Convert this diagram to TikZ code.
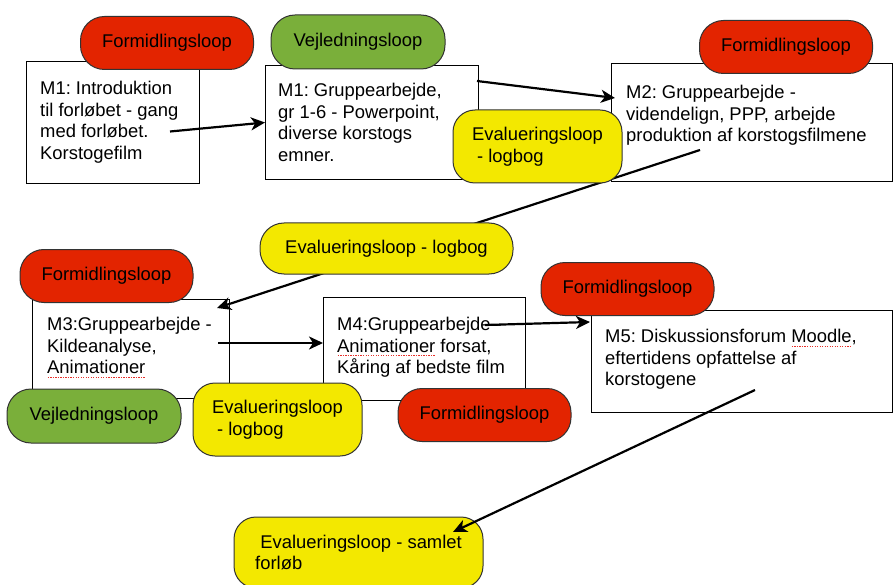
\documentclass[tikz,border=0pt]{standalone}
\usepackage{fontspec}
\setmainfont{Liberation Sans}
\usetikzlibrary{arrows.meta}
\definecolor{loopred}{HTML}{E32400}
\definecolor{loopgreen}{HTML}{7AAF3A}
\definecolor{loopyellow}{HTML}{F3E800}
\definecolor{spellred}{HTML}{E8302A}
\frenchspacing
% red dotted line under a word, as the spell checker marks it
\newcommand{\spellmark}[1]{\setbox0\hbox{#1}\rlap{\color{spellred}\raisebox{-4pt}{\hbox to\wd0{\xleaders\hbox to 2.5pt{\hss\rule{1.3pt}{1pt}\hss}\hfil}}}#1}

\begin{document}
\begin{tikzpicture}[x=1pt, y=-1pt, font=\fontsize{18.4}{21.5}\selectfont,
  modul/.style = {draw, line width=1pt, fill=white, anchor=north west, inner sep=0pt},
  txt/.style = {anchor=north west, inner sep=0pt, align=left},
  loopbox/.style = {draw=black!80, line width=1pt, rounded corners=24pt, inner sep=0pt, align=left},
  formid/.style = {loopbox, fill=loopred, minimum width=173pt, minimum height=53pt},
  vejled/.style = {loopbox, fill=loopgreen, minimum width=174pt, minimum height=54pt},
  evalu/.style = {loopbox, fill=loopyellow},
  pil/.style = {line width=2.2pt, -{Stealth[length=14pt, width=13pt, inset=4pt]}}]
\useasboundingbox (0,0) rectangle (893,585);

% moduler
\node[modul, minimum width=173pt, minimum height=122pt] (m1a) at (26,61) {};
\node[modul, minimum width=213pt, minimum height=114pt] (m1b) at (265,65) {};
\node[modul, minimum width=281pt, minimum height=118pt] (m2) at (611,63) {};
\node[modul, minimum width=197pt, minimum height=99pt] (m3) at (32,299) {};
\node[modul, minimum width=202pt, minimum height=103pt] (m4) at (323,297) {};
\node[modul, minimum width=301pt, minimum height=102pt] (m5) at (591,310) {};

\node[txt] (t1a) at (40,81) {M1: Introduktion\\til forløbet - gang\\med forløbet.\\Korstogefilm};
\node[txt] (t1b) at (278,83) {M1: Gruppearbejde,\\gr 1-6 - Powerpoint,\\diverse korstogs\\emner.};
\node[txt] (t2) at (626,85) {M2: Gruppearbejde -\\videndelign, PPP, arbejde\\produktion af korstogsfilmene};
\node[txt] (t3) at (47,317) {M3:Gruppearbejde -\\Kildeanalyse,\\\spellmark{Animationer}};
\node[txt] (t4) at (337,317) {M4:Gruppearbejde -\\\spellmark{Animationer} forsat,\\Kåring af bedste film};
\node[txt] (t5) at (605,329) {M5: Diskussionsforum \spellmark{Moodle},\\eftertidens opfattelse af\\korstogene};

\coordinate (m1aout) at (170,131.5);
\coordinate (m1bout) at (477,81);
\coordinate (m2in) at (615,98);
\coordinate (m2out) at (700,150);
\coordinate (m3in) at (217,308);
\coordinate (m3out) at (218,343);
\coordinate (m4in) at (323,343);
\coordinate (m4out) at (485,325);
\coordinate (m5in) at (590,322);
\coordinate (m5out) at (755,390);
\coordinate (samletin) at (453,532);

\draw[pil] (m2out) -- (m3in);

% loops
\node[formid] (f1) at (167,43) {Formidlingsloop};
\node[vejled] (v1) at (358,42) {Vejledningsloop};
\node[formid] (f2) at (786,47) {Formidlingsloop};
\node[evalu, minimum width=169pt, minimum height=73pt, rounded corners=22pt] (e1) at (537.5,146.5) {Evalueringsloop\\\ - logbog};
\node[evalu, minimum width=253pt, minimum height=51pt] (e2) at (386.5,248.5) {Evalueringsloop - logbog};
\node[formid] (f3) at (106.5,276) {Formidlingsloop};
\node[vejled] (v2) at (94,416) {Vejledningsloop};
\node[evalu, minimum width=169pt, minimum height=73pt, rounded corners=22pt] (e3) at (277.5,419.5) {Evalueringsloop\\\ - logbog};
\node[formid] (f4) at (484.5,415) {Formidlingsloop};
\node[formid] (f5) at (627.5,289) {Formidlingsloop};
\node[evalu, minimum width=249pt, minimum height=71pt, rounded corners=22pt] (e4) at (358.5,552.5) {\ Evalueringsloop - samlet\\forløb};

\draw[pil] (m1aout) -- (m1b.west);
\draw[pil] (m1bout) -- (m2in);
\draw[pil] (m3out) -- (m4in);
\draw[pil] (m4out) -- (m5in);
\draw[pil] (m5out) -- (samletin);

\end{tikzpicture}
\end{document}
